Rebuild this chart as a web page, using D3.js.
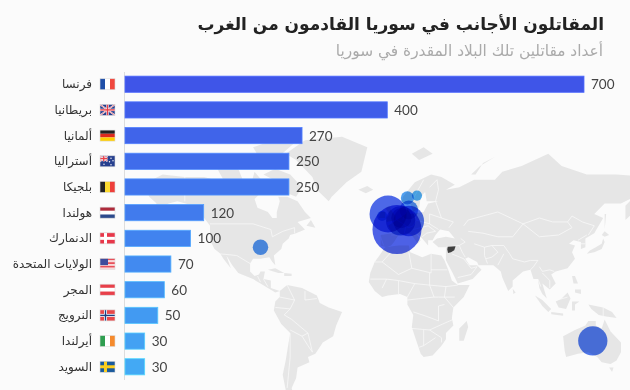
<!DOCTYPE html>
<html lang="ar">
<head>
<meta charset="utf-8">
<script src="https://cdn.jsdelivr.net/npm/d3@7"></script>
<style>
  html, body { margin: 0; padding: 0; background: #fbfbfb; }
  svg { display: block; }
  .name { font: 12px "Noto Sans", "DejaVu Sans", sans-serif; fill: #333; text-anchor: end; }
  .value { font: 13.5px Lato, sans-serif; fill: #444; }
  .title { font: bold 17px "DejaVu Sans", sans-serif; fill: #222; text-anchor: end; }
  .subtitle { font: 15.4px "DejaVu Sans", sans-serif; fill: #aaa; text-anchor: end; }
  .bubble { mix-blend-mode: multiply; }
</style>
</head>
<body>
<div id="chart"></div>
<script>
const names = ['فرنسا', 'بريطانيا', 'ألمانيا', 'أستراليا', 'بلجيكا', 'هولندا', 'الدنمارك', 'الولايات المتحدة', 'المجر', 'النرويج', 'أيرلندا', 'السويد'];
const fighters = [700, 400, 270, 250, 250, 120, 100, 70, 60, 50, 30, 30];
// lon, lat of each country's bubble (hungary has none visible in the picture)
const bubbleLon = [2, -4, 10, 134, 4.5, 5, 10, -90, null, 9, -8, 15.5];
const bubbleLat = [46, 54, 50.5, -25, 50.5, 52, 56, 36, null, 61.5, 53, 62.5];

const flags = [
  ['v', ['#1f4fa8', '#ffffff', '#f0483e']],
  ['uk', []],
  ['h', ['#222222', '#dd2a1e', '#ffce00']],
  ['au', []],
  ['v', ['#222222', '#fbd92f', '#ee3f3a']],
  ['h', ['#ad2b3b', '#ffffff', '#2c4a8c']],
  ['cross', ['#e8374a', '#ffffff']],
  ['us', []],
  ['h', ['#e8404a', '#ffffff', '#e8404a']],
  ['cross2', ['#e8484a', '#ffffff', '#1f3f80']],
  ['v', ['#2f9e50', '#ffffff', '#f58a2c']],
  ['cross', ['#1a5a9c', '#fcce1e']],
];

// rough coastlines, lon/lat
const land = [
  // north america
  [[-168,66],[-163,69],[-156,71],[-141,70],[-128,70],[-115,68],[-108,68],[-96,68],[-94,72],[-88,68],[-82,69],[-86,66],[-94,61],[-92,57],[-85,55],[-82,52],[-79,52],[-79,55],[-77,60],[-78,62],[-72,62],[-65,60],[-60,55],[-56,52],[-65,50],[-60,46],[-66,44],[-70,43],[-71,41],[-75,38],[-76,35],[-81,31],[-80,25],[-82,27],[-84,30],[-90,29],[-95,29],[-97,26],[-97,21],[-94,18],[-91,19],[-90,21],[-87,21],[-88,16],[-83,15],[-83,10],[-80,9],[-77,8],[-80,7],[-85,10],[-90,13],[-95,16],[-105,20],[-109,25],[-113,31],[-110,23],[-115,29],[-117,32],[-121,35],[-124,40],[-124,48],[-130,54],[-135,58],[-146,60],[-152,59],[-158,56],[-165,54],[-160,59],[-165,62]],
  // greenland
  [[-73,78],[-60,82],[-35,83],[-18,80],[-22,72],[-32,68],[-42,62],[-44,60],[-52,65],[-55,70],[-66,76]],
  // arctic islands
  [[-80,73],[-70,71],[-62,66],[-66,62],[-74,64],[-78,68],[-88,71]],
  [[-120,74],[-105,73],[-102,69],[-115,69],[-118,72]],
  [[-95,80],[-75,83],[-65,82],[-78,77],[-90,76]],
  [[-125,74],[-118,76],[-110,76],[-116,74]],
  // cuba, hispaniola, newfoundland
  [[-85,22],[-80,23],[-74,20],[-78,20]],
  [[-74,20],[-69,19.5],[-69,18],[-74,18]],
  [[-59,48],[-56,51],[-53,47]],
  // south america
  [[-77,8],[-72,12],[-62,10],[-52,5],[-50,0],[-44,-3],[-35,-6],[-39,-15],[-41,-22],[-48,-26],[-53,-33],[-58,-35],[-57,-38],[-65,-41],[-66,-47],[-69,-52],[-68,-55],[-73,-53],[-75,-45],[-73,-37],[-70,-20],[-76,-14],[-81,-5],[-80,1],[-77,4]],
  // africa
  [[-6,36],[3,37],[10,37],[11,33],[19,30],[25,32],[32,31],[34,28],[37,21],[39,15],[43,12],[51,12],[47,4],[40,-3],[39,-10],[40,-15],[35,-20],[35,-24],[32,-28],[26,-34],[20,-35],[18,-33],[14,-22],[12,-16],[13,-8],[9,-1],[9,4],[4,6],[-4,5],[-8,4],[-13,8],[-17,14],[-16,20],[-13,27],[-9,32]],
  // eurasia
  [[-9,37],[-9,43],[-1,44],[-4,48],[2,51],[8,54],[9,57],[11,54],[20,55],[23,59],[30,60],[22,60],[21,64],[24,66],[18,62],[17,57],[13,55],[11,59],[5,59],[6,62],[14,68],[25,71],[32,70],[41,67],[35,65],[44,66],[54,69],[68,69],[73,72],[86,74],[104,78],[113,74],[130,71],[150,71],[170,70],[180,69],[180,65],[172,62],[163,60],[162,55],[156,51],[156,58],[162,62],[153,59],[142,59],[135,54],[141,52],[135,44],[129,41],[129,36],[126,35],[126,39],[121,40],[118,38],[122,37],[120,33],[122,29],[117,23],[109,21],[106,19],[109,13],[105,9],[100,13],[103,3],[100,6],[98,10],[97,16],[94,16],[92,22],[87,21],[80,15],[80,11],[77,8],[73,17],[72,21],[67,25],[57,25],[56,27],[50,30],[48,29],[51,25],[56,25],[59,22],[53,16],[43,13],[39,21],[35,28],[35,36],[30,36],[26,39],[29,41],[35,42],[41,41],[37,45],[31,46],[28,43],[26,40],[23,40],[23,37],[19,41],[14,45],[18,40],[16,38],[12,43],[9,44],[3,43],[0,39],[-2,37],[-5,36]],
  // britain, ireland, iceland, svalbard, novaya zemlya
  [[-5,50],[1,51],[1,53],[-2,56],[-3,58],[-6,57],[-3,54],[-5,52]],
  [[-10,52],[-6,52],[-6,55],[-9,55]],
  [[-24,65],[-18,66.5],[-14,65],[-19,63.5]],
  [[12,78],[20,80],[26,78],[17,76]],
  [[52,71],[58,74],[68,77],[60,75],[55,71]],
  // japan, sakhalin
  [[130,32],[132,34],[136,36],[140,38],[141,41],[142,39],[140,35],[135,33]],
  [[140,43],[142,45],[145,43],[142,42]],
  [[142,46],[143,54],[142,54],[142,49]],
  // south east asia
  [[95,5],[100,2],[106,-4],[104,-6],[100,-2]],
  [[106,-6],[114,-7],[114,-8.5],[106,-7.5]],
  [[109,1],[113,3],[117,7],[119,3],[116,-4],[111,-3]],
  [[120,1],[125,1],[122,-1],[122,-5],[120,-5]],
  [[131,-1],[141,-3],[147,-6],[150,-10],[143,-9],[138,-8],[133,-4]],
  [[120,18],[122,18],[124,13],[121,13]],
  [[122,9],[126,9],[126,6],[122,7]],
  [[80,9.5],[82,7],[80.5,6]],
  // australia, nz, tasmania, madagascar
  [[114,-22],[122,-18],[129,-15],[131,-12],[136,-12],[136,-15],[140,-17],[142,-11],[146,-19],[153,-26],[153,-32],[150,-37],[146,-39],[140,-38],[137,-35],[131,-32],[124,-33],[116,-35],[115,-31]],
  [[145,-41],[148,-41],[147,-43.5]],
  [[173,-35],[178,-38],[175,-41],[174,-39]],
  [[167,-46],[172,-41],[174,-42],[170,-46]],
  [[49,-12],[50,-16],[47,-25],[44,-25],[44,-17]],
];

const syria = [[36.2,36.2],[41.5,36.6],[40.6,34.2],[38.4,33],[36.4,32.6],[35.9,34.6]];

// country borders, lon/lat
const borders = [
  [[-141,70],[-141,60]], [[-124,49],[-95,49],[-83,46],[-82,42],[-75,45],[-67,47],[-67,44]],
  [[-117,32],[-106,31],[-97,26]], [[-92,18],[-90,14]], [[-88,16],[-85,11]],
  [[-72,12],[-67,2],[-70,-4],[-74,-8],[-69,-11],[-58,-20],[-55,-32]], [[-77,4],[-67,2]], [[-60,8],[-60,2],[-52,3]],
  [[-80,-3],[-70,-4]], [[-70,-18],[-62,-22],[-58,-20]], [[-70,-20],[-70,-35],[-72,-52]], [[-62,-22],[-58,-28],[-55,-32]],
  [[-13,27],[-8,27],[-2,33]], [[-8,27],[3,19],[12,23],[10,33]], [[12,23],[25,20],[25,32]], [[25,22],[36,22]],
  [[-16,16],[-5,16],[3,15],[14,13],[24,12],[24,20]], [[24,12],[35,11],[43,12]], [[-8,10],[-5,16]], [[3,6],[3,15]], [[14,13],[9,4]],
  [[24,12],[27,4],[30,4],[41,4]], [[9,2],[18,3],[27,4]], [[35,11],[34,4],[40,-3]], [[13,-6],[22,-9],[30,-12],[30,-2],[34,-1]],
  [[12,-17],[24,-18],[33,-14],[40,-11]], [[20,-18],[20,-28],[17,-29]], [[24,-18],[32,-23],[32,-26]], [[20,-28],[28,-23]],
  [[-2,43],[3,43]], [[2,51],[8,48],[7,44]], [[-9,42],[-7,37]], [[6,51],[7,54]], [[14,54],[15,51],[13,48],[10,47],[7,48]],
  [[24,54],[24,49],[15,51]], [[23,48],[28,45],[22,44],[19,42]], [[13,46],[23,48]], [[30,46],[24,49]], [[28,60],[32,52],[40,50],[37,47]], [[24,54],[32,52]],
  [[12,60],[20,69]], [[24,66],[29,69]], [[28,60],[30,65],[29,69]],
  [[35,36],[44,37],[48,39],[45,41]], [[44,37],[46,33],[48,30]], [[39,32],[47,29],[52,23],[56,24]], [[52,19],[56,24]], [[43,17],[52,19]],
  [[50,45],[60,44],[70,42],[80,42],[87,49],[70,55],[50,51],[47,48]], [[54,38],[61,36],[66,37],[74,37]], [[61,36],[61,31],[63,26]], [[66,37],[70,33],[66,30],[62,29]],
  [[74,37],[78,32],[80,29],[88,27],[92,28],[97,28],[94,24],[92,22]], [[70,25],[74,32]], [[98,24],[100,21],[105,22],[108,21]], [[97,16],[99,11]], [[100,20],[105,15],[105,10]],
  [[87,49],[98,52],[107,50],[117,50],[120,53],[127,50],[135,48],[131,43]], [[87,49],[98,42],[111,43],[120,47],[117,50]], [[124,40],[130,43]], [[126,38],[129,38]],
  [[141,-3],[141,-9]], [[110,2],[117,4]],
];

const width = 630;
const height = 390;

const svg = d3.select('#chart').append('svg')
  .attr('width', width)
  .attr('height', height);

// miller cylindrical, the map's latitudes fit this one
const miller = d3.geoProjection((lam, phi) => [lam, 1.25 * Math.log(Math.tan(Math.PI / 4 + 0.4 * phi))])
  .scale(85)
  .translate([394, 303]);

const line = d3.line().curve(d3.curveLinear);
const ringPath = (ring) => line(ring.map(miller)) + 'Z';

const map = svg.append('g').attr('class', 'map');
map.selectAll('path.land')
  .data(land)
  .join('path')
  .attr('class', 'land')
  .attr('d', ringPath)
  .attr('fill', '#e6e6e6');
map.selectAll('path.border')
  .data(borders)
  .join('path')
  .attr('class', 'border')
  .attr('d', (d) => line(d.map(miller)))
  .attr('fill', 'none')
  .attr('stroke', '#fbfbfb')
  .attr('stroke-width', 0.7);
map.append('path')
  .attr('d', ringPath(syria))
  .attr('fill', '#3f3f3f');

const rows = names.map((name, i) => ({
  name,
  value: fighters[i],
  lon: bubbleLon[i],
  lat: bubbleLat[i],
  flag: flags[i],
  i,
}));

const colors = d3.scaleLinear()
  .domain([0, names.length - 1])
  .range(['#3f55e8', '#43a9f4']);

const rScale = d3.scaleSqrt().domain([0, 700]).range([0, 24.5]);

svg.append('g')
  .selectAll('circle')
  .data(d3.sort(rows.filter((d) => d.lon !== null), (d) => -d.value))
  .join('circle')
  .attr('class', 'bubble')
  .attr('cx', (d) => miller([d.lon, d.lat])[0])
  .attr('cy', (d) => miller([d.lon, d.lat])[1])
  .attr('r', (d) => rScale(d.value))
  .attr('fill', (d) => colors(d.i))
  .attr('fill-opacity', 0.92);

const xScale = d3.scaleLinear().domain([0, 700]).range([125, 584]);
const yScale = d3.scaleBand()
  .domain(names)
  .range([71, 380])
  .paddingInner(0.37)
  .paddingOuter(0.2);

svg.append('line')
  .attr('x1', 124.5)
  .attr('x2', 124.5)
  .attr('y1', 72)
  .attr('y2', 380)
  .attr('stroke', '#dddddd');

const row = svg.append('g')
  .selectAll('g')
  .data(rows)
  .join('g');

row.append('rect')
  .attr('x', xScale(0))
  .attr('y', (d) => yScale(d.name))
  .attr('width', (d) => xScale(d.value) - xScale(0))
  .attr('height', yScale.bandwidth())
  .attr('fill', (d) => colors(d.i))
  .attr('stroke', (d) => d3.color(colors(d.i)).brighter(0.7))
  .attr('stroke-width', 0.8);

row.append('text')
  .attr('class', 'value')
  .attr('x', (d) => xScale(d.value) + 7)
  .attr('y', (d) => yScale(d.name) + yScale.bandwidth() / 2 + 5)
  .text((d) => d.value);

row.append('text')
  .attr('class', 'name')
  .attr('x', 92)
  .attr('y', (d) => yScale(d.name) + yScale.bandwidth() / 2 + 4)
  .text((d) => d.name);

// flags
const fw = 15;
const fh = 11;

function drawFlag(g, [kind, cols]) {
  const rect = (x, y, w, h, fill) => g.append('rect')
    .attr('x', x).attr('y', y).attr('width', w).attr('height', h).attr('fill', fill);
  if (kind === 'h') {
    cols.forEach((c, i) => rect(0, i * fh / 3, fw, fh / 3, c));
  } else if (kind === 'v') {
    cols.forEach((c, i) => rect(i * fw / 3, 0, fw / 3, fh, c));
  } else if (kind === 'cross' || kind === 'cross2') {
    rect(0, 0, fw, fh, cols[0]);
    rect(4, 0, 3, fh, cols[1]);
    rect(0, 4, fw, 3, cols[1]);
    if (kind === 'cross2') {
      rect(4.8, 0, 1.4, fh, cols[2]);
      rect(0, 4.8, fw, 1.4, cols[2]);
    }
  } else if (kind === 'uk' || kind === 'au') {
    rect(0, 0, fw, fh, '#27408f');
    const w = kind === 'uk' ? fw : fw / 2;
    const h = kind === 'uk' ? fh : fh / 2;
    g.append('path').attr('d', `M0,0L${w},${h}M${w},0L0,${h}`)
      .attr('stroke', '#ffffff').attr('stroke-width', 1.6);
    g.append('path').attr('d', `M0,0L${w},${h}M${w},0L0,${h}`)
      .attr('stroke', '#e8404a').attr('stroke-width', 0.6);
    rect(w / 2 - 1.2, 0, 2.4, h, '#ffffff');
    rect(0, h / 2 - 1.2, w, 2.4, '#ffffff');
    rect(w / 2 - 0.7, 0, 1.4, h, '#e8404a');
    rect(0, h / 2 - 0.7, w, 1.4, '#e8404a');
    if (kind === 'au') {
      [[11, 2.5], [13, 5], [9.5, 6], [11, 9], [4, 8.5]].forEach(([cx, cy]) => {
        g.append('circle').attr('cx', cx).attr('cy', cy).attr('r', 0.7).attr('fill', '#ffffff');
      });
    }
  } else if (kind === 'us') {
    d3.range(6).forEach((i) => rect(0, i * fh / 6, fw, fh / 6, i % 2 ? '#f8d8d8' : '#e8505a'));
    rect(0, 0, 8, fh * 0.6, '#3d4c9c');
  }
  g.append('rect').attr('width', fw).attr('height', fh)
    .attr('fill', 'none').attr('stroke', '#dddddd').attr('stroke-width', 0.6);
}

row.append('g')
  .attr('transform', (d) => `translate(100, ${yScale(d.name) + yScale.bandwidth() / 2 - fh / 2})`)
  .each(function (d) { drawFlag(d3.select(this), d.flag); });

svg.append('text')
  .attr('class', 'title')
  .attr('x', 604)
  .attr('y', 30)
  .text('المقاتلون الأجانب في سوريا القادمون من الغرب');

svg.append('text')
  .attr('class', 'subtitle')
  .attr('x', 603)
  .attr('y', 56)
  .text('أعداد مقاتلين تلك البلاد المقدرة في سوريا');
</script>
</body>
</html>
